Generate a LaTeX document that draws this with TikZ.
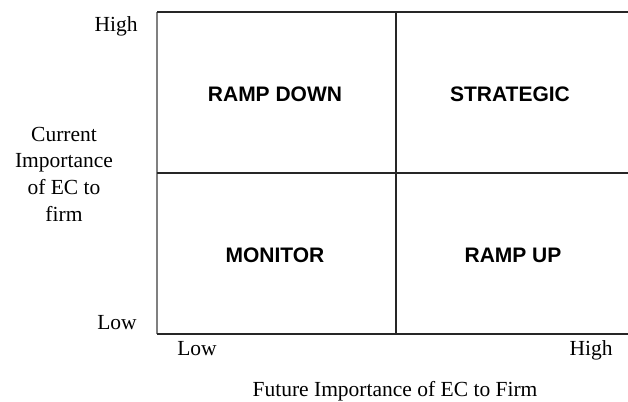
\documentclass[tikz,border=0pt]{standalone}
\usepackage{fontspec}
\setmainfont{Liberation Serif}
\newfontfamily\quadfont{Liberation Sans}

\tikzset{
  axislabel/.style={font=\fontsize{21.5}{26.7}\selectfont, inner sep=0pt,
    text height=0.7em, text depth=0.22em},
  axistitle/.style={font=\fontsize{21.5}{26.7}\selectfont, align=center},
  quadlabel/.style={font=\quadfont\bfseries\fontsize{21}{24}\selectfont}
}

\begin{document}
\begin{tikzpicture}[x=1pt,y=-1pt]
		\useasboundingbox (0,0) rectangle (628,401);

		\coordinate (tl) at (157,12);
		\coordinate (tr) at (628,12);
		\coordinate (bl) at (157,334);
		\coordinate (br) at (628,334);
		\coordinate (mt) at (396,12);
		\coordinate (mb) at (396,334);
		\coordinate (ml) at (157,173);
		\coordinate (mr) at (628,173);

		\draw [line width=1.3pt, gray] (tl) -- (bl);
		\draw [line width=1.1pt, black!85] (tl) -- (tr);
		\draw [line width=1.1pt, black!85] (bl) -- (br);
		\draw [line width=1.1pt, black!85] (mt) -- (mb);
		\draw [line width=1.1pt, black!85] (ml) -- (mr);

		\node [quadlabel] (rampdown) at (275,94) {RAMP DOWN};
		\node [quadlabel] (strategic) at (510,94) {STRATEGIC};
		\node [quadlabel] (monitor) at (275,255) {MONITOR};
		\node [quadlabel] (rampup) at (513,255) {RAMP UP};

		\node [axislabel] (yhigh) at (116,29) {High};
		\node [axislabel] (ylow) at (117,327) {Low};
		\node [axistitle] (ytitle) at (64,174) {Current\\Importance\\of EC to\\firm};

		\node [axislabel] (xlow) at (197,353) {Low};
		\node [axislabel] (xhigh) at (591,353) {High};
		\node [axislabel] (xtitle) at (395,394) {Future Importance of EC to Firm};
	\end{tikzpicture}
\end{document}
